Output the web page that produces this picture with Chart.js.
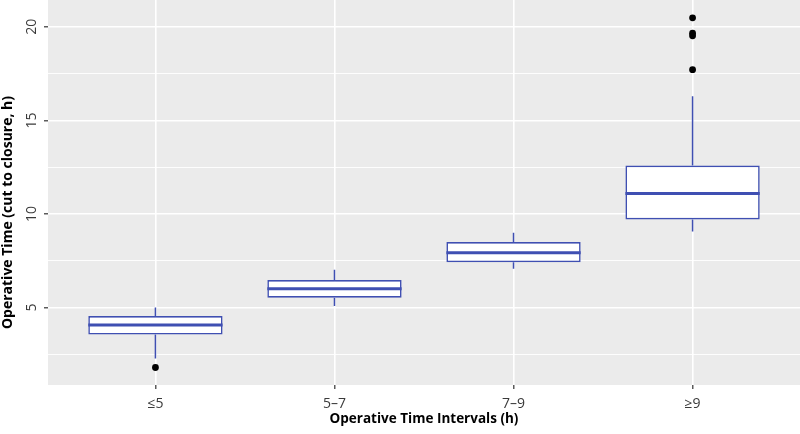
<!DOCTYPE html>
<html>
<head>
<meta charset="utf-8">
<script src="https://cdn.jsdelivr.net/npm/chart.js@4.4.1/dist/chart.umd.min.js"></script>
<style>
  html, body { margin: 0; padding: 0; background: #ffffff; }
  #wrap { width: 800px; height: 434px; position: relative; }
</style>
</head>
<body>
<div id="wrap"><canvas id="c" width="800" height="434"></canvas></div>
<script>
// ---- data ----
const categories   = ['≤5', '5–7', '7–9', '≥9'];
const whiskerLow   = [2.28, 5.09, 7.08, 9.07];
const q1           = [3.56, 5.53, 7.43, 9.71];
const median       = [4.07, 6.01, 7.93, 11.10];
const q3           = [4.55, 6.47, 8.50, 12.59];
const whiskerHigh  = [5.00, 7.02, 9.00, 16.29];
const outliers     = [[1.80], [], [], [17.71, 19.52, 19.66, 20.48]];
const yTicksMajor  = [5, 10, 15, 20];
const yTicksMinor  = [2.5, 7.5, 12.5, 17.5];
const yRange       = [0.865, 21.435];
const xRange       = [0.4, 4.6];

// ---- styling ----
const BOX_WIDTH = 0.75;
const BLUE = '#3F4FB2';
const PANEL = '#EBEBEB';
const TICK_TEXT = '#3A3A3A';
const FONT = "'Open Sans', 'DejaVu Sans', sans-serif";

// ---- build datasets from the arrays ----
const pos = categories.map((_, i) => i + 1);

const whiskerData = [];
pos.forEach((x, i) => {
  whiskerData.push({x: x, y: whiskerLow[i]}, {x: x, y: q1[i]}, {x: x, y: null});
  whiskerData.push({x: x, y: q3[i]}, {x: x, y: whiskerHigh[i]}, {x: x, y: null});
});

const boxData = pos.map((x, i) => ({x: x, y: [q1[i], q3[i]]}));

const medianData = [];
pos.forEach((x, i) => {
  medianData.push({x: x - BOX_WIDTH / 2, y: median[i]}, {x: x + BOX_WIDTH / 2, y: median[i]}, {x: x, y: null});
});

const outlierData = [];
pos.forEach((x, i) => outliers[i].forEach(v => outlierData.push({x: x, y: v})));

const panelBg = {
  id: 'panelBg',
  beforeDraw(chart) {
    const {ctx, chartArea: a} = chart;
    ctx.save();
    ctx.fillStyle = PANEL;
    ctx.fillRect(a.left, a.top, a.right - a.left, a.bottom - a.top);
    ctx.restore();
  }
};

const isMajor = v => yTicksMajor.includes(v);

new Chart(document.getElementById('c'), {
  type: 'bar',
  data: {
    datasets: [
      {
        type: 'line', label: 'whiskers', data: whiskerData, order: 4,
        borderColor: BLUE, borderWidth: 1.5, pointRadius: 0, spanGaps: false, fill: false
      },
      {
        type: 'bar', label: 'boxes', data: boxData, order: 3,
        backgroundColor: '#FFFFFF', borderColor: BLUE, borderWidth: 1.6, borderSkipped: false,
        categoryPercentage: 1, barPercentage: BOX_WIDTH
      },
      {
        type: 'line', label: 'median', data: medianData, order: 2,
        borderColor: BLUE, borderWidth: 3, pointRadius: 0, spanGaps: false, fill: false,
        borderCapStyle: 'butt'
      },
      {
        type: 'scatter', label: 'outliers', data: outlierData, order: 1,
        backgroundColor: '#000000', borderColor: '#000000', pointRadius: 3.4, borderWidth: 0
      }
    ]
  },
  options: {
    responsive: false,
    animation: false,
    layout: { padding: 0, autoPadding: false },
    plugins: { legend: { display: false }, tooltip: { enabled: false }, title: { display: false } },
    scales: {
      x: {
        type: 'linear', min: xRange[0], max: xRange[1], offset: false,
        afterBuildTicks: s => { s.ticks = pos.map(v => ({value: v})); },
        afterFit: s => { s.height = 49; s.paddingLeft = 0; s.paddingRight = 0; },
        border: { display: false },
        grid: { offset: false, color: '#FFFFFF', lineWidth: 1.6, tickLength: 4, tickColor: '#333333', tickWidth: 1.2, drawTicks: true },
        ticks: {
          callback: v => categories[v - 1], padding: 7, color: TICK_TEXT,
          font: { family: FONT, size: 14 }, maxRotation: 0, autoSkip: false
        },
        title: {
          display: true, text: 'Operative Time Intervals (h)', color: '#000000',
          font: { family: FONT, size: 13.5, weight: 'bold' }, padding: { top: 0, bottom: 7 }
        }
      },
      y: {
        type: 'linear', min: yRange[0], max: yRange[1], beginAtZero: false,
        afterBuildTicks: s => { s.ticks = yTicksMinor.concat(yTicksMajor).sort((a, b) => a - b).map(v => ({value: v})); },
        afterFit: s => { s.width = 48; s.paddingTop = 0; s.paddingBottom = 0; },
        border: { display: false },
        grid: {
          color: '#FFFFFF',
          lineWidth: c => (c.tick && isMajor(c.tick.value)) ? 1.6 : 0.9,
          tickLength: 4,
          tickColor: c => (c.tick && isMajor(c.tick.value)) ? '#333333' : 'rgba(0,0,0,0)',
          tickWidth: 1.2
        },
        ticks: {
          callback: v => isMajor(v) ? String(v) : '',
          color: TICK_TEXT, font: { family: FONT, size: 14 },
          minRotation: 90, maxRotation: 90, crossAlign: 'center', padding: 4, autoSkip: false
        },
        title: {
          display: true, text: 'Operative Time (cut to closure, h)' + ' '.repeat(11), color: '#000000',
          font: { family: FONT, size: 14, weight: 'bold' }, padding: { top: 0, bottom: 0 }
        }
      }
    }
  },
  plugins: [panelBg]
});
</script>
</body>
</html>
